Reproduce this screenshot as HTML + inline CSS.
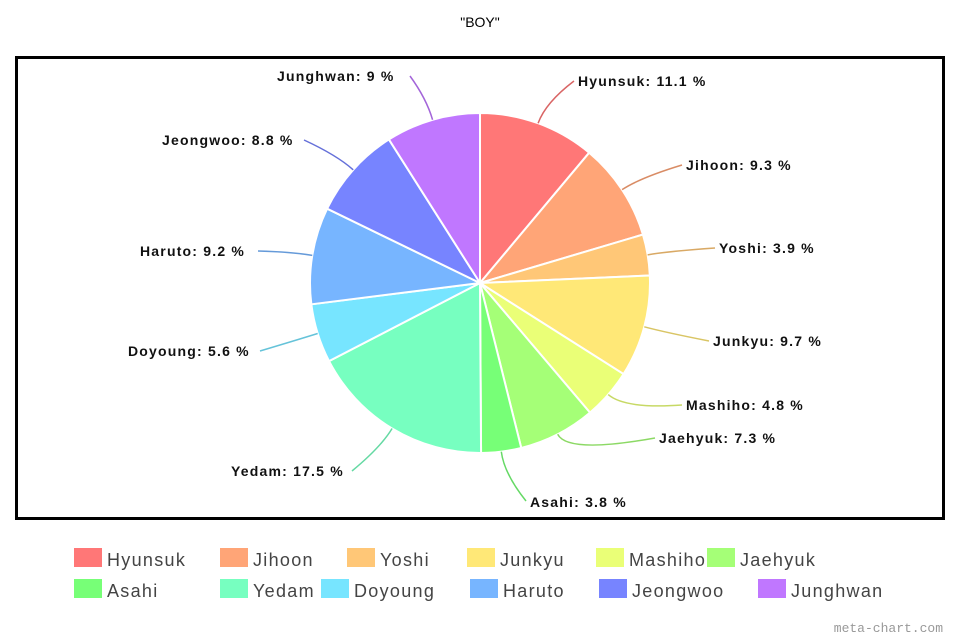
<!DOCTYPE html>
<html><head><meta charset="utf-8"><style>
html,body{margin:0;background:#fff;width:960px;height:640px;overflow:hidden;font-family:"Liberation Sans",sans-serif}
svg{display:block}
</style></head><body>
<svg id="s" width="960" height="640" xmlns="http://www.w3.org/2000/svg" font-family="Liberation Sans, sans-serif">
<text x="480" y="27" text-anchor="middle" font-size="14" fill="#000">"BOY"</text>
<rect x="16.5" y="57.5" width="927" height="461" fill="#fff" stroke="#000" stroke-width="3"/>
<g id="pie"></g>
<g font-size="14" font-weight="bold" fill="#111" letter-spacing="1.2">
<text x="578" y="86">Hyunsuk: 11.1 %</text>
<text x="686" y="170">Jihoon: 9.3 %</text>
<text x="719" y="253">Yoshi: 3.9 %</text>
<text x="713" y="346">Junkyu: 9.7 %</text>
<text x="686" y="410">Mashiho: 4.8 %</text>
<text x="659" y="443">Jaehyuk: 7.3 %</text>
<text x="530" y="507">Asahi: 3.8 %</text>
<text x="231" y="476">Yedam: 17.5 %</text>
<text x="128" y="356">Doyoung: 5.6 %</text>
<text x="140" y="256">Haruto: 9.2 %</text>
<text x="162" y="145">Jeongwoo: 8.8 %</text>
<text x="277" y="81">Junghwan: 9 %</text>
</g>
<g font-size="18" fill="#444" letter-spacing="1.3">
<rect x="74" y="548" width="28" height="19" fill="#ff7777"/><text x="107" y="566">Hyunsuk</text>
<rect x="220" y="548" width="28" height="19" fill="#ffa577"/><text x="253" y="566">Jihoon</text>
<rect x="347" y="548" width="28" height="19" fill="#ffc777"/><text x="380" y="566">Yoshi</text>
<rect x="467" y="548" width="28" height="19" fill="#ffe877"/><text x="500" y="566">Junkyu</text>
<rect x="596" y="548" width="28" height="19" fill="#eaff77"/><text x="629" y="566">Mashiho</text>
<rect x="707" y="548" width="28" height="19" fill="#a5ff77"/><text x="740" y="566">Jaehyuk</text>
<rect x="74" y="579" width="28" height="19" fill="#77ff77"/><text x="107" y="597">Asahi</text>
<rect x="220" y="579" width="28" height="19" fill="#77ffc0"/><text x="253" y="597">Yedam</text>
<rect x="321" y="579" width="28" height="19" fill="#77e5ff"/><text x="354" y="597">Doyoung</text>
<rect x="470" y="579" width="28" height="19" fill="#77b5ff"/><text x="503" y="597">Haruto</text>
<rect x="599" y="579" width="28" height="19" fill="#7784ff"/><text x="632" y="597">Jeongwoo</text>
<rect x="758" y="579" width="28" height="19" fill="#c077ff"/><text x="791" y="597">Junghwan</text>
</g>
<text x="943" y="632" text-anchor="end" font-size="13" fill="#999" font-family="Liberation Mono, monospace">meta-chart.com</text>
</svg>
<script>
var d=[11.1,9.3,3.9,9.7,4.8,7.3,3.8,17.5,5.6,9.2,8.8,9.0];
var c=["#ff7777","#ffa577","#ffc777","#ffe877","#eaff77","#a5ff77","#77ff77","#77ffc0","#77e5ff","#77b5ff","#7784ff","#c077ff"];
var lab=[[574,81],[682,165],[715,248],[709,341],[682,405],[655,438],[526,501],[352,471],[260,351],[258,251],[304,140],[410,76]];
var cx=480,cy=283,r=170,a=0,h="";
function p(an,rr){return[cx+rr*Math.sin(an),cy-rr*Math.cos(an)];}
for(var i=0;i<d.length;i++){
 var a1=a+d[i]/100*2*Math.PI,s=p(a,r),e=p(a1,r),m=(a+a1)/2;
 h+='<path d="M'+cx+','+cy+'L'+s[0]+','+s[1]+'A'+r+','+r+' 0 '+(a1-a>Math.PI?1:0)+' 1 '+e[0]+','+e[1]+'Z" fill="'+c[i]+'" stroke="#fff" stroke-width="2"/>';
 var q1=p(m,r),q2=p(m,r+22),L=lab[i];
 h+='<path d="M'+q1[0]+','+q1[1]+'Q'+q2[0]+','+q2[1]+' '+L[0]+','+L[1]+'" fill="none" stroke="'+c[i]+'" stroke-width="1.5" style="filter:brightness(0.85)"/>';
 a=a1;}
document.getElementById("pie").innerHTML=h;
</script>
</body></html>
